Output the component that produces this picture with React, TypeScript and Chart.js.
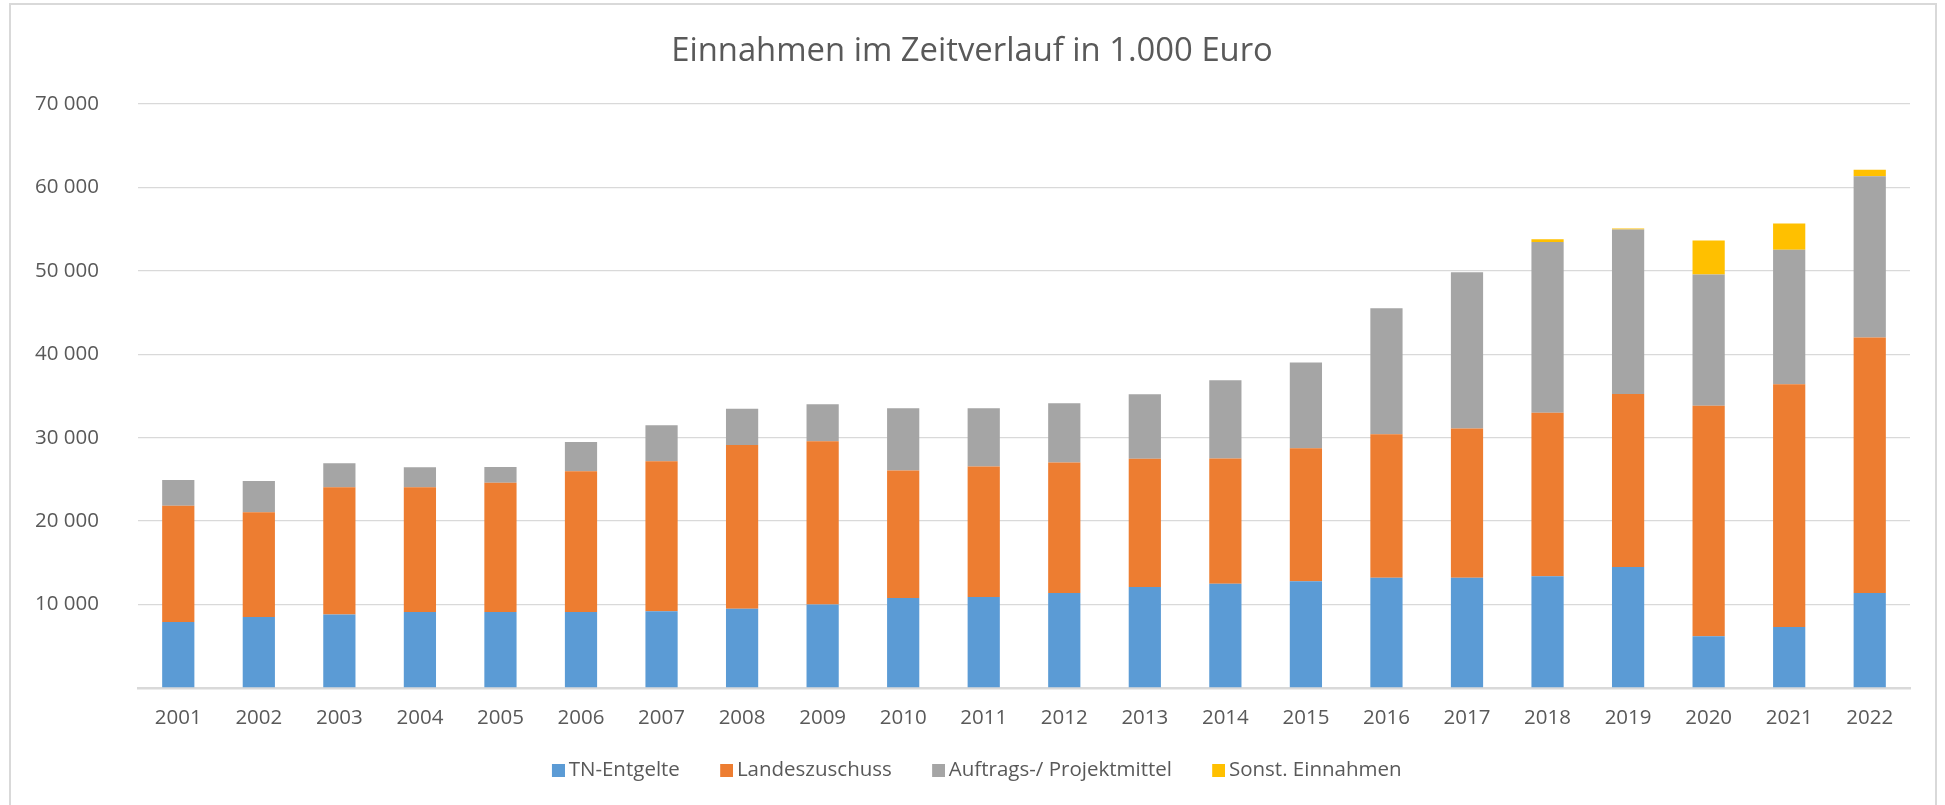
import React, { useEffect, useRef } from "react";
import { Chart, registerables } from "chart.js";

Chart.register(...registerables);

const years = [
  "2001", "2002", "2003", "2004", "2005", "2006", "2007", "2008", "2009", "2010", "2011",
  "2012", "2013", "2014", "2015", "2016", "2017", "2018", "2019", "2020", "2021", "2022",
];

const tnEntgelte = [
  7900, 8500, 8800, 9100, 9100, 9100, 9200, 9500, 10000, 10800, 10900,
  11400, 12100, 12500, 12800, 13200, 13200, 13400, 14500, 6200, 7300, 11400,
];

const landeszuschuss = [
  13950, 12550, 15250, 14950, 15500, 16870, 17970, 19620, 19560, 15270, 15650,
  15640, 15380, 15020, 15950, 17200, 17900, 19600, 20740, 27630, 29110, 30600,
];

const projektmittel = [
  3080, 3760, 2880, 2400, 1890, 3510, 4310, 4360, 4440, 7450, 6970,
  7080, 7720, 9360, 10250, 15100, 18740, 20450, 19720, 15730, 16130, 19350,
];

const sonstEinnahmen = [
  0, 0, 0, 0, 0, 0, 0, 0, 0, 0, 0,
  0, 0, 0, 0, 0, 0, 320, 120, 4090, 3130, 750,
];

const seriesNames = ["TN-Entgelte", "Landeszuschuss", "Auftrags-/ Projektmittel", "Sonst. Einnahmen"];
const seriesColors = ["#5B9BD5", "#ED7D31", "#A5A5A5", "#FFC000"];
const titleText = "Einnahmen im Zeitverlauf in 1.000 Euro";

const fmt = (v: number) =>
  v === 0 ? "" : String(v).replace(/\B(?=(\d{3})+(?!\d))/g, " ");

// legend marker: a 13px square at the right end of a transparent strip
const BOX_W = 16;
const SQ = 13;
function makeMarker(color: string) {
  const c = document.createElement("canvas");
  c.width = BOX_W + SQ;
  c.height = SQ;
  const ctx = c.getContext("2d")!;
  ctx.fillStyle = color;
  ctx.fillRect(BOX_W, 0, SQ, SQ);
  return c;
}

export default function App() {
  const ref = useRef<HTMLCanvasElement | null>(null);

  useEffect(() => {
    if (!ref.current) return;
    const textColor = "#595959";
    const font = "'Open Sans', sans-serif";
    const values = [tnEntgelte, landeszuschuss, projektmittel, sonstEinnahmen];
    const markers = seriesColors.map(makeMarker);
    const defaultGen = (Chart.defaults as any).plugins.legend.labels.generateLabels;
    const chart = new Chart(ref.current, {
      type: "bar",
      data: {
        labels: years,
        datasets: values.map((d, i) => ({
          label: seriesNames[i],
          data: d,
          backgroundColor: seriesColors[i],
          borderWidth: 0,
          barPercentage: 0.4,
          categoryPercentage: 1.0,
        })),
      },
      options: {
        animation: false,
        responsive: false,
        maintainAspectRatio: false,
        layout: { padding: { left: 34, right: 35, top: 0, bottom: 14.75 } },
        plugins: {
          title: {
            display: true,
            text: titleText,
            color: textColor,
            font: { family: font, size: 32.8, weight: "normal" },
            padding: { top: 32.3, bottom: 32.3 },
          },
          legend: {
            display: true,
            position: "bottom",
            labels: {
              color: textColor,
              font: { family: font, size: 20.5 },
              usePointStyle: true,
              boxWidth: BOX_W,
              boxHeight: SQ,
              padding: 30.75,
              generateLabels: (c: any) =>
                defaultGen(c).map((it: any, i: number) => ({ ...it, pointStyle: markers[i], lineWidth: 0 })),
            },
          },
          tooltip: { enabled: false },
        },
        scales: {
          x: {
            stacked: true,
            grid: { display: false, drawTicks: false },
            border: { display: true, color: "#D9D9D9", width: 2.5 },
            ticks: { color: textColor, font: { family: font, size: 20.5, lineHeight: 1 }, padding: 20 },
            afterFit: (s: any) => { s.height = 41; },
          },
          y: {
            stacked: true,
            min: 0,
            max: 70000,
            ticks: {
              stepSize: 10000,
              color: textColor,
              font: { family: font, size: 20.5 },
              padding: 39,
              callback: (v: any) => fmt(Number(v)),
            },
            grid: { color: "#D9D9D9", lineWidth: 1.3, drawTicks: false },
            border: { display: false },
            afterFit: (s: any) => { s.width = 104; },
          },
        },
      },
    });
    return () => chart.destroy();
  }, []);

  return (
    <div style={{ position: "fixed", left: 0, top: 0, width: 1945, height: 805, overflow: "hidden", background: "#fff" }}>
      <div style={{ position: "absolute", left: 9, top: 3, width: 1928, height: 900, border: "2px solid #D9D9D9", boxSizing: "border-box" }} />
      <canvas ref={ref} width={1945} height={805} style={{ position: "absolute", left: 0, top: 0, width: 1945, height: 805 }} />
    </div>
  );
}
